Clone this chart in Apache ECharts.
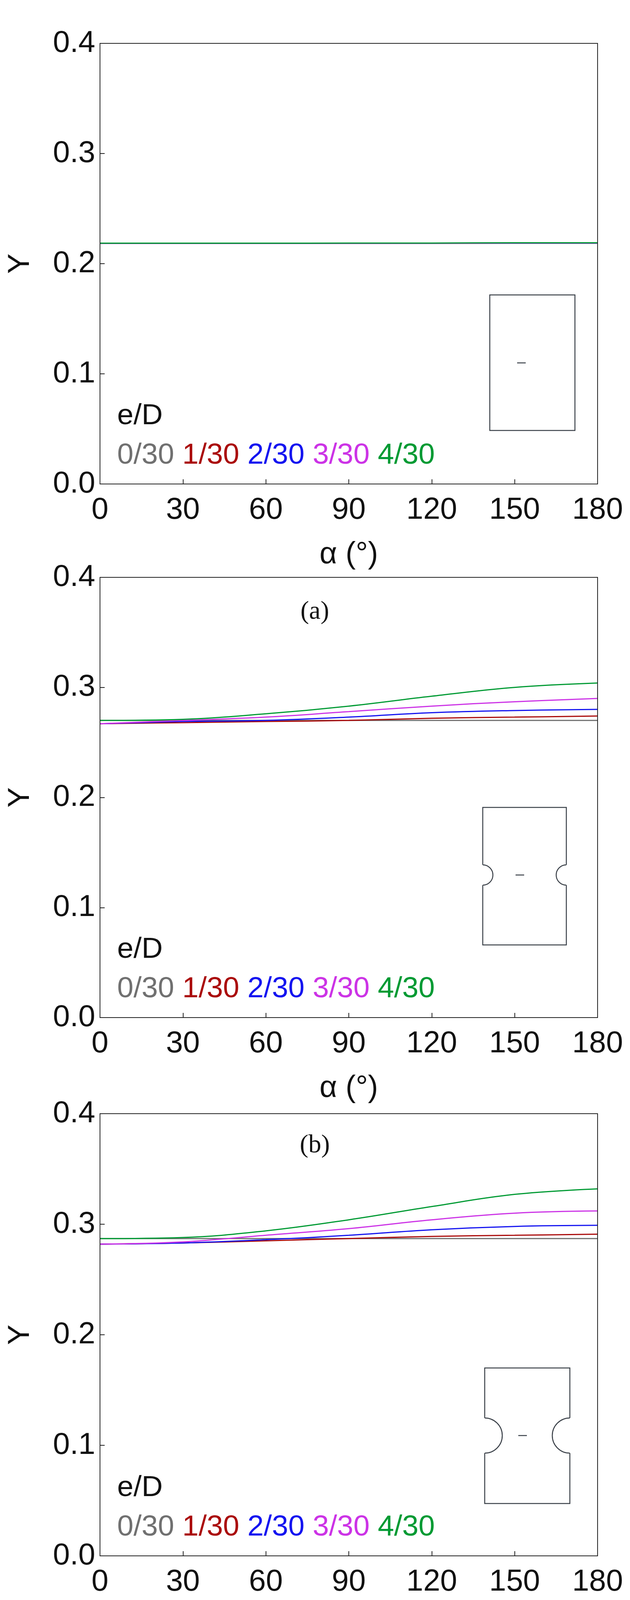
<!DOCTYPE html>
<html>
<head>
<meta charset="utf-8">
<script src="https://cdn.jsdelivr.net/npm/echarts@6/dist/echarts.min.js"></script>
<style>html,body{margin:0;padding:0;background:#fff}#chart{width:1613px;height:5522px}</style>
</head>
<body>
<div id="chart"></div>
<script>
// alpha (deg)
const alpha = [0, 30, 60, 90, 120, 150, 180]
const ratioNames = ['0/30', '1/30', '2/30', '3/30', '4/30']
const colors = ['#707070', '#aa0a0a', '#1414f0', '#cc33e6', '#009a33']
const panelNames = ['(a)', '(b)', '(c)', '(d)']

// Y values per panel, per e/D
const panelA = [
  [0.2185, 0.2185, 0.2185, 0.2185, 0.2185, 0.2185, 0.2185],
  [0.2185, 0.2185, 0.2185, 0.2185, 0.2185, 0.2186, 0.2186],
  [0.2185, 0.2185, 0.2185, 0.2185, 0.2185, 0.2187, 0.2187],
  [0.2185, 0.2185, 0.2185, 0.2185, 0.2186, 0.2188, 0.2188],
  [0.2186, 0.2186, 0.2186, 0.2187, 0.2187, 0.2190, 0.2190]
]
const panelB = [
  [0.270, 0.270, 0.270, 0.270, 0.270, 0.270, 0.270],
  [0.267, 0.268, 0.269, 0.270, 0.272, 0.273, 0.274],
  [0.267, 0.269, 0.270, 0.273, 0.277, 0.279, 0.280],
  [0.267, 0.270, 0.273, 0.278, 0.283, 0.287, 0.290],
  [0.270, 0.271, 0.276, 0.283, 0.292, 0.300, 0.304]
]
const panelC = [
  [0.287, 0.287, 0.287, 0.287, 0.287, 0.287, 0.287],
  [0.282, 0.283, 0.285, 0.287, 0.289, 0.290, 0.291],
  [0.282, 0.283, 0.286, 0.290, 0.295, 0.298, 0.299],
  [0.282, 0.284, 0.290, 0.296, 0.304, 0.310, 0.312],
  [0.287, 0.288, 0.294, 0.304, 0.316, 0.327, 0.332]
]
const panelD = [
  [0.327, 0.327, 0.327, 0.327, 0.327, 0.327, 0.327],
  [0.3235, 0.325, 0.3265, 0.328, 0.331, 0.334, 0.334],
  [0.3235, 0.324, 0.328, 0.333, 0.339, 0.344, 0.346],
  [0.3235, 0.325, 0.330, 0.340, 0.350, 0.357, 0.359],
  [0.327, 0.330, 0.338, 0.350, 0.365, 0.376, 0.380]
]
const panels = [panelA, panelB, panelC, panelD]

const grids = [
  { left: 256, top: 111, width: 1274, height: 1128 },
  { left: 256, top: 1478, width: 1274, height: 1127 },
  { left: 256, top: 2851, width: 1274, height: 1132 },
  { left: 256, top: 4229, width: 1274, height: 1110 }
]

const font = 'Arial, "Liberation Sans", sans-serif'
let chart = echarts.init(document.getElementById('chart'))

let xAxis = [], yAxis = [], series = [], graphic = []
grids.forEach((g, i) => {
  xAxis.push({
    gridIndex: i, type: 'value', min: 0, max: 180, interval: 30,
    name: 'α (°)', nameLocation: 'middle', nameGap: 142,
    nameTextStyle: { fontSize: 78, fontFamily: font, color: '#111' },
    axisLine: { show: false }, splitLine: { show: false },
    axisTick: { inside: true, length: 12, lineStyle: { color: '#222', width: 2 } },
    axisLabel: { fontSize: 78, fontFamily: font, color: '#111', margin: 28 }
  })
  yAxis.push({
    gridIndex: i, type: 'value', min: 0, max: 0.4, interval: 0.1,
    name: 'Y', nameLocation: 'middle', nameGap: 165, nameRotate: 90,
    nameTextStyle: { fontSize: 78, fontFamily: font, color: '#111' },
    axisLine: { show: false }, splitLine: { show: false },
    axisTick: { inside: true, length: 12, lineStyle: { color: '#222', width: 2 } },
    axisLabel: {
      fontSize: 78, fontFamily: font, color: '#111', margin: 12,
      formatter: v => (i === 3 && v === 0) ? '0' : v.toFixed(1)
    }
  })
  panels[i].forEach((vals, k) => {
    series.push({
      type: 'line', xAxisIndex: i, yAxisIndex: i, smooth: 0.4,
      showSymbol: false, z: 2 + (k === 0 ? 0 : 1),
      lineStyle: { color: colors[k], width: 3 },
      data: alpha.map((a, j) => [a, vals[j]])
    })
  })
  // frame
  graphic.push({ type: 'rect', shape: { x: g.left, y: g.top, width: g.width, height: g.height },
    style: { fill: 'none', stroke: '#222', lineWidth: 2 }, z: 10 })
  // legend text
  const bottom = g.top + g.height
  graphic.push({ type: 'text', x: 300, y: bottom - 174, style: { text: 'e/D', font: '75px ' + font, fill: '#111', verticalAlign: 'middle' } })
  graphic.push({ type: 'text', x: 300, y: bottom - 73, style: {
    text: ratioNames.map((n, k) => '{c' + k + '|' + n + '}').join(' '),
    font: '75px ' + font, verticalAlign: 'middle',
    rich: Object.fromEntries(colors.map((c, k) => ['c' + k, { fill: c, font: '75px ' + font }]))
  } })
  // caption
  graphic.push({ type: 'text', x: 806, y: bottom + 328, style: { text: panelNames[i],
    font: '66px "Liberation Serif", serif', fill: '#111', align: 'center', verticalAlign: 'middle' } })
})

// specimen insets
const st = { fill: 'none', stroke: '#3a4048', lineWidth: 2.5 }
function specimen(x0, x1, y0, y1, notchTop, notchBot, arcL, arcR) {
  graphic.push({ type: 'polyline', shape: { points: [[x0, notchTop], [x0, y0], [x1, y0], [x1, notchTop]] }, style: st })
  graphic.push({ type: 'polyline', shape: { points: [[x0, notchBot], [x0, y1], [x1, y1], [x1, notchBot]] }, style: st })
  if (arcL) graphic.push({ type: 'arc', shape: arcL, style: st })
  if (arcR) graphic.push({ type: 'arc', shape: arcR, style: st })
  const ym = (notchTop + notchBot) / 2, xm = (x0 + x1) / 2 - 12
  graphic.push({ type: 'line', shape: { x1: xm - 11, y1: ym, x2: xm + 11, y2: ym }, style: st })
}
const P = Math.PI
graphic.push({ type: 'rect', shape: { x: 1254, y: 755, width: 218, height: 347 }, style: st })
graphic.push({ type: 'line', shape: { x1: 1324, y1: 929, x2: 1346, y2: 929 }, style: st })
specimen(1236, 1450, 2067, 2419, 2214, 2266,
  { cx: 1236, cy: 2240, r: 26, startAngle: -P / 2, endAngle: P / 2, clockwise: true },
  { cx: 1450, cy: 2240, r: 26, startAngle: P / 2, endAngle: 3 * P / 2, clockwise: true })
specimen(1241, 1459, 3502, 3849, 3630, 3720,
  { cx: 1241, cy: 3675, r: 45, startAngle: -P / 2, endAngle: P / 2, clockwise: true },
  { cx: 1459, cy: 3675, r: 45, startAngle: P / 2, endAngle: 3 * P / 2, clockwise: true })
const a0 = Math.asin(95 / 130)
specimen(1236, 1450, 4862, 5212, 4943, 5133,
  { cx: 1236 - 88.7, cy: 5038, r: 130, startAngle: -a0, endAngle: a0, clockwise: true },
  { cx: 1450 + 88.7, cy: 5038, r: 130, startAngle: P - a0, endAngle: P + a0, clockwise: true })

chart.setOption({
  animation: false,
  grid: grids,
  xAxis: xAxis,
  yAxis: yAxis,
  series: series,
  graphic: graphic
})
window.addEventListener('resize', () => chart.resize())
</script>
</body>
</html>
